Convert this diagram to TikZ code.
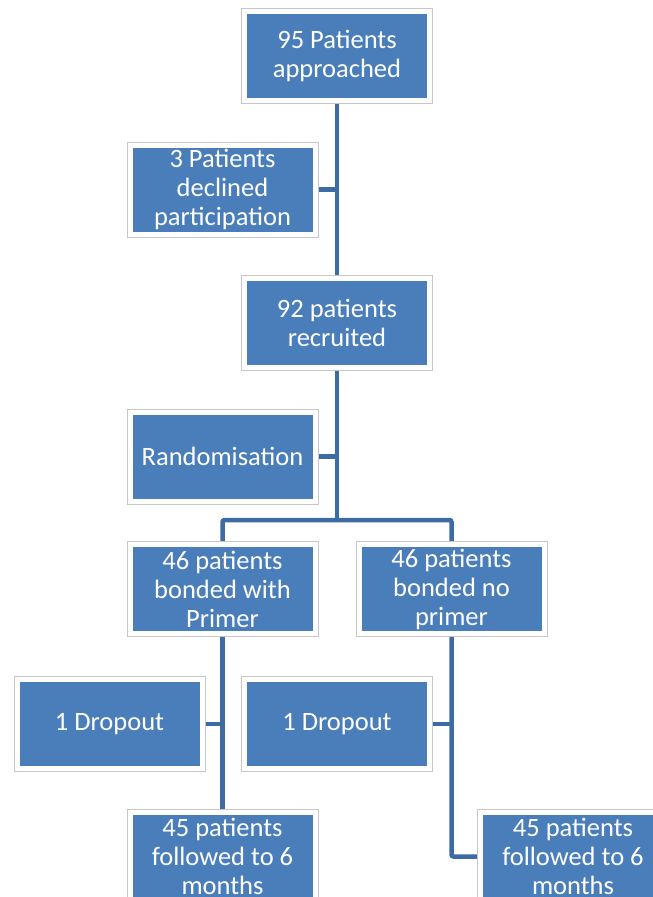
\documentclass[tikz,border=0pt]{standalone}
\usepackage{fontspec}
\setmainfont{Carlito}
\usetikzlibrary{backgrounds}

\definecolor{boxblue}{HTML}{4A7EBB}
\definecolor{linkblue}{HTML}{3D6CA5}

\begin{document}
\begin{tikzpicture}[x=1pt,y=-1pt,
  box/.style={draw=white, line width=5pt, fill=boxblue,
    preaction={draw=black!22, line width=7pt},
    minimum width=185pt, minimum height=89pt, inner sep=0pt,
    align=center, text=white,
    font=\fontsize{26.5}{29}\selectfont},
  link/.style={draw=linkblue, line width=4.5pt, rounded corners=2pt}]

\useasboundingbox (0,0) rectangle (653,897);

\node[box] (A) at (337,56)
{95 Patients\\approached};%

\node[box] (D) at (222.5,189.5)
{3 Patients\\declined\\participation};%

\node[box] (R) at (337,322.5)
{92 patients\\recruited};%

\node[box] (Z) at (222.5,456.5)
{Randomisation};%

\node[box] (P) at (222.5,589)
{46 patients\\bonded with\\Primer};%

\node[box] (N) at (451.5,589)
{46 patients\\bonded no\\primer};%

\node[box] (L) at (109.5,724)
{1 Dropout};%

\node[box] (M) at (337,724)
{1 Dropout};%

\node[box] (F) at (222.5,856.5)
{45 patients\\followed to 6\\months};%

\node[box] (G) at (573,856.5)
{45 patients\\followed to 6\\months};%

\coordinate (fork) at (337,520);

\begin{scope}[on background layer]
\draw[link] (A) -- (R);
\draw[link] (D) -- (D -| A);
\draw[link] (R) -- (fork);
\draw[link] (Z) -- (Z -| R);
\draw[link] (P) |- (fork) -| (N);
\draw[link] (P) -- (F);
\draw[link] (L) -- (L -| P);
\draw[link] (N) |- (G);
\draw[link] (M) -- (M -| N);
\end{scope}

\end{tikzpicture}
\end{document}
